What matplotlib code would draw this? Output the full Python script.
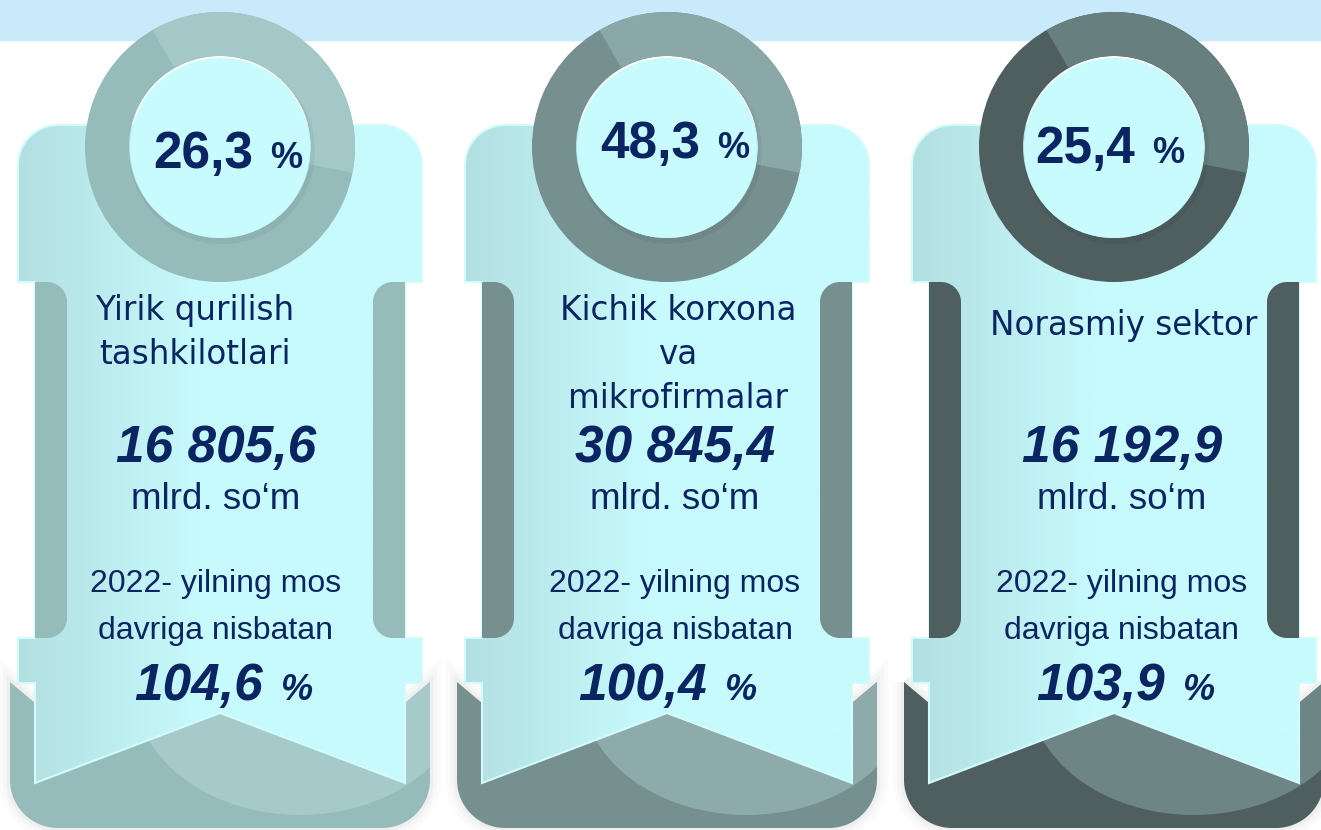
import numpy as np
import matplotlib
matplotlib.use('Agg')
import matplotlib.pyplot as plt
from matplotlib.path import Path
from matplotlib.patches import PathPatch, Wedge, Circle, Ellipse, Rectangle
from matplotlib.colors import LinearSegmentedColormap

# data
shares = ['26,3', '48,3', '25,4']
labels = [['Yirik qurilish', 'tashkilotlari'],
          ['Kichik korxona', 'va', 'mikrofirmalar'],
          ['Norasmiy sektor']]
amounts = ['16 805,6', '30 845,4', '16 192,9']
growth = ['104,6', '100,4', '103,9']
unit = 'mlrd. so\u2018m'
compare_lines = ['2022- yilning mos', 'davriga nisbatan']

# colours per card
ring_colors = ['#96BBBB', '#768F8F', '#4F5F5F']
arc_colors = ['#A4C8C8', '#8AA8A8', '#687F7F']
fold_colors = ['#A6C9C9', '#8EABAB', '#6E8585']
BANNER = '#C8EAFB'
CYAN_L = '#B2DFE2'
CYAN_R = '#C7FAFC'
TEXT = '#0B2462'

# layout (pixel coords, y down)
centers = [220, 667, 1114]
ring_y = [168, 158, 163]
ring_num_dx = [33, 33, 21]
label_dx = [-25, 11, 10]
label_y = [320, 320, 335]
text_dx = [-4, 8, 8]
growth_dx = [43, 40, 51]

cyan_cmap = LinearSegmentedColormap.from_list('cy', [(0, CYAN_L), (0.45, CYAN_R), (1, CYAN_R)])


def arc(x0, y0, r, a0, a1, n=24):
    t = np.radians(np.linspace(a0, a1, n))
    return list(zip(x0 + r * np.cos(t), y0 - r * np.sin(t)))


def poly_path(pts):
    pts = list(pts) + [pts[0]]
    codes = [Path.MOVETO] + [Path.LINETO] * (len(pts) - 2) + [Path.CLOSEPOLY]
    return Path(pts, codes)


fig = plt.figure(figsize=(13.21, 8.30), dpi=100)
ax = fig.add_axes([0, 0, 1, 1])
ax.set_xlim(0, 1321)
ax.set_ylim(830, 0)
ax.axis('off')

ax.add_patch(Rectangle((0, 0), 1321, 40, color=BANNER, zorder=0))

for i, cx in enumerate(centers):
    dark = ring_colors[i]

    # ribbon base
    R = 48
    base_pts = [(cx - 210, 682), (cx - 185, 703), (cx + 185, 703), (cx + 210, 682)]
    base_pts += arc(cx + 210 - R, 828 - R, R, 0, -90)
    base_pts += arc(cx - 210 + R, 828 - R, R, -90, -180)
    base_path = poly_path(base_pts)
    for lw, a in [(16, 0.025), (10, 0.035), (5, 0.05)]:
        ax.add_patch(PathPatch(base_path, fc='none', ec='#7a7a7a', lw=lw, alpha=a, zorder=1))
    base = PathPatch(base_path, fc=dark, ec='none', zorder=2)
    ax.add_patch(base)
    fold = Ellipse((cx + 80, 690), 330, 250, fc=fold_colors[i], ec='none', zorder=3)
    ax.add_patch(fold)
    fold.set_clip_path(base)

    # cyan card silhouette
    pts = [(cx - 202, 282)]
    pts += arc(cx - 162, 165, 40, 180, 90)
    pts += arc(cx + 162, 165, 40, 90, 0)
    pts += [(cx + 202, 282), (cx + 185, 282), (cx + 185, 638), (cx + 202, 638),
            (cx + 202, 683), (cx + 185, 683), (cx + 185, 783), (cx, 713),
            (cx - 185, 783), (cx - 185, 683), (cx - 202, 683), (cx - 202, 638),
            (cx - 185, 638), (cx - 185, 282)]
    card_path = poly_path(pts)
    card = PathPatch(card_path, fc='none', ec='#D4FBFC', lw=1.5, zorder=5)
    ax.add_patch(card)
    grad = np.linspace(0, 1, 256).reshape(1, -1)
    im = ax.imshow(grad, cmap=cyan_cmap, extent=[cx - 202, cx + 202, 790, 120],
                   aspect='auto', zorder=4, interpolation='bilinear')
    im.set_clip_path(card)

    # side strips with rounded inner corners
    r = 20
    a, b = cx - 185, cx - 153
    left = [(a, 282), (b - r, 282)] + arc(b - r, 282 + r, r, 90, 0) + \
        arc(b - r, 638 - r, r, 0, -90) + [(a, 638)]
    ax.add_patch(PathPatch(poly_path(left), fc=dark, ec='none', zorder=6))
    a2, b2 = cx + 153, cx + 185
    right = [(b2, 282), (a2 + r, 282)] + arc(a2 + r, 282 + r, r, 90, 180) + \
        arc(a2 + r, 638 - r, r, 180, 270) + [(b2, 638)]
    ax.add_patch(PathPatch(poly_path(right), fc=dark, ec='none', zorder=6))

    # ring
    ax.add_patch(Wedge((cx, 147), 135, 0, 360, width=44, fc=dark, ec='none', zorder=7))
    ax.add_patch(Wedge((cx, 147), 135, -120, 11, width=44, fc=arc_colors[i], ec='none', zorder=7))
    ax.add_patch(Circle((cx + 2, 151), 93, fc='#000000', alpha=0.05, ec='none', zorder=7))
    ax.add_patch(Circle((cx, 148), 90, fc='#C8FBFD', ec='none', zorder=8))

    # texts
    ax.text(cx + ring_num_dx[i], ring_y[i], shares[i], ha='right', va='baseline',
            fontsize=37, fontweight='bold', family='Liberation Sans', color=TEXT, zorder=10)
    ax.text(cx + ring_num_dx[i] + 17, ring_y[i], '%', ha='left', va='baseline',
            fontsize=26, fontweight='bold', family='Liberation Sans', color=TEXT, zorder=10)

    for k, line in enumerate(labels[i]):
        ax.text(cx + label_dx[i], label_y[i] + 44 * k, line, ha='center', va='baseline',
                fontsize=23.5, family='DejaVu Sans', color=TEXT, zorder=10)

    ax.text(cx + text_dx[i], 462, amounts[i], ha='center', va='baseline', fontsize=37,
            fontweight='bold', style='italic', family='Liberation Sans', color=TEXT, zorder=10)
    ax.text(cx + text_dx[i], 509, unit, ha='center', va='baseline', fontsize=26.5,
            family='Liberation Sans', color=TEXT, zorder=10)
    for k, line in enumerate(compare_lines):
        ax.text(cx + text_dx[i], 592 + 47 * k, line, ha='center', va='baseline', fontsize=23,
                family='Liberation Sans', color=TEXT, zorder=10)
    ax.text(cx + growth_dx[i], 700, growth[i], ha='right', va='baseline', fontsize=37,
            fontweight='bold', style='italic', family='Liberation Sans', color=TEXT, zorder=10)
    ax.text(cx + growth_dx[i] + 17, 700, '%', ha='left', va='baseline', fontsize=26,
            fontweight='bold', style='italic', family='Liberation Sans', color=TEXT, zorder=10)

ax.set_xlim(0, 1321)
ax.set_ylim(830, 0)
fig.savefig('out.png', dpi=100)
